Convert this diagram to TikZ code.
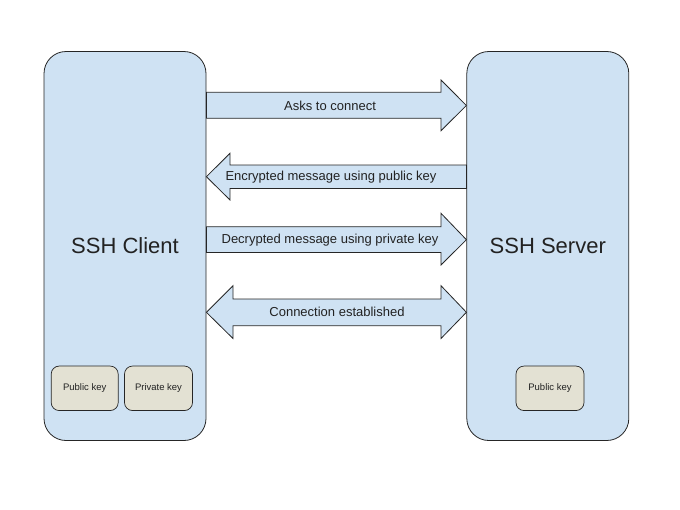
\documentclass[tikz,border=0pt]{standalone}
\usepackage{fontspec}
\setmainfont{Liberation Sans}
\definecolor{boxblue}{HTML}{CFE2F3}
\definecolor{keyfill}{HTML}{E3E1D3}
\definecolor{edge}{HTML}{262626}
\definecolor{txt}{HTML}{222222}
\begin{document}
\begin{tikzpicture}[x=1pt,y=-1pt,
  bigbox/.style={draw=edge, line width=0.8pt, fill=boxblue, rounded corners=22pt,
    minimum width=162pt, minimum height=389pt, inner sep=0pt,
    font=\fontsize{22}{26}\selectfont, text=txt},
  keybox/.style={draw=edge, line width=0.7pt, fill=keyfill, rounded corners=8pt,
    minimum width=67pt, minimum height=44.5pt, inner sep=0pt,
    font=\fontsize{9.5}{11}\selectfont, text=txt},
  blockarrow/.style={draw=edge, line width=0.8pt, fill=boxblue, line join=miter},
  lbl/.style={font=\fontsize{13}{15}\selectfont, text=txt, inner sep=0pt}
]
\useasboundingbox (0,0) rectangle (680,509);

% main boxes
\node[bigbox] (client) at (125,246) {SSH Client};
\node[bigbox] (server) at (547.8,246) {SSH Server};

% keys
\node[keybox] (cpub) at (84.7,388.3) {Public key};
\node[keybox, minimum width=68pt] (cpriv) at (158.5,388.3) {Private key};
\node[keybox, minimum width=68pt] (spub) at (550,388.3) {Public key};

% arrow 1: client -> server
\draw[blockarrow] (client.east |- 0,92.3) -- (441,92.3) -- (441,80)
  -- (server.west |- 0,105.5) -- (441,130.7) -- (441,118.3)
  -- (client.east |- 0,118.3) -- cycle;
\node[lbl] (m1) at (330,105.5) {Asks to connect};

% arrow 2: server -> client
\draw[blockarrow] (server.west |- 0,165) -- (230,165) -- (230,153.3)
  -- (client.east |- 0,176.7) -- (230,200) -- (230,188.4)
  -- (server.west |- 0,188.4) -- cycle;
\node[lbl] (m2) at (331,176.7) {Encrypted message using public key};

% arrow 3: client -> server
\draw[blockarrow] (client.east |- 0,226.7) -- (441,226.7) -- (441,213.3)
  -- (server.west |- 0,239.7) -- (441,265) -- (441,252.5)
  -- (client.east |- 0,252.5) -- cycle;
\node[lbl] (m3) at (330,239.7) {Decrypted message using private key};

% arrow 4: both ways
\draw[blockarrow] (233,299) -- (441,299) -- (441,285.7)
  -- (server.west |- 0,312.3) -- (441,338.5) -- (441,325.7)
  -- (233,325.7) -- (233,338.5) -- (client.east |- 0,312.3)
  -- (233,285.7) -- cycle;
\node[lbl] (m4) at (337,312.3) {Connection established};
\end{tikzpicture}
\end{document}
